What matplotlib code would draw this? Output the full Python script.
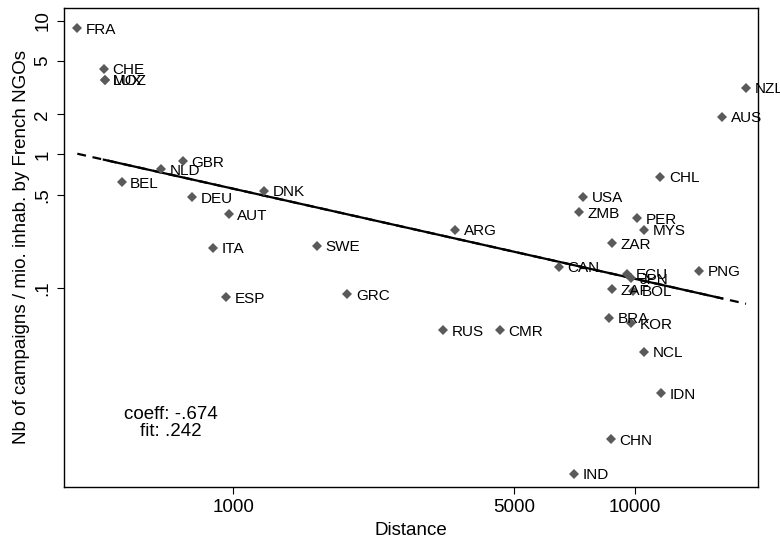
import numpy as np
import matplotlib
matplotlib.use('Agg')
import matplotlib.pyplot as plt

plt.rcParams['font.family'] = ['Liberation Sans', 'DejaVu Sans']

# Datos (distancia en km, campanas / mio. hab.)
paises = ['FRA', 'CHE', 'LUX', 'MOZ', 'BEL', 'NLD', 'GBR', 'DEU', 'AUT', 'ITA',
          'DNK', 'SWE', 'ESP', 'GRC', 'ARG', 'RUS', 'CMR', 'USA', 'ZMB', 'CAN',
          'CHL', 'PER', 'MYS', 'ZAR', 'ECU', 'JPN', 'ZAF', 'BOL', 'BRA', 'KOR',
          'NCL', 'IDN', 'CHN', 'IND', 'PNG', 'AUS', 'NZL']
distancia = [408, 475, 477, 477, 526, 660, 747, 787, 973, 887,
             1193, 1615, 958, 1922, 3575, 3336, 4619, 7452, 7258, 6481,
             11595, 10161, 10578, 8790, 9561, 9784, 8790, 9935, 8650, 9784,
             10542, 11620, 8720, 7065, 14500, 16520, 18970]
campanas = [8.82, 4.37, 3.61, 3.61, 0.619, 0.775, 0.889, 0.478, 0.356, 0.200,
            0.533, 0.207, 0.0852, 0.0897, 0.272, 0.0482, 0.0482, 0.483, 0.369, 0.144,
            0.682, 0.333, 0.272, 0.216, 0.127, 0.118, 0.0978, 0.095, 0.0599, 0.0544,
            0.0333, 0.01626, 0.00736, 0.00404, 0.1348, 1.92, 3.17]

# recta de ajuste (log-log)
coef = -0.674
intercepto = 1.765
ajuste = 0.242

x_ticks = [1000, 5000, 10000]
y_ticks = [0.1, 0.5, 1, 2, 5, 10]
y_tick_labels = ['.1', '.5', '1', '2', '5', '10']

fig = plt.figure(figsize=(7.8, 5.37), dpi=100)
ax = fig.add_axes([64/780, 1 - 487/537, (758-64)/780, (487-8)/537])

ax.set_xscale('log')
ax.set_yscale('log')

# linea de ajuste: discontinua en los extremos, continua en el interior
xs = np.sort(distancia)
x_full = np.array([xs[0], xs[-1]])
x_in = np.array([xs[1], xs[-2]])
ax.plot(x_full, 10**(intercepto + coef*np.log10(x_full)), color='black',
        lw=1.6, ls=(0, (4, 3)), zorder=2)
ax.plot(x_in, 10**(intercepto + coef*np.log10(x_in)), color='black',
        lw=1.6, zorder=2)

ax.plot(distancia, campanas, 'D', color='#5a5a5a', ms=4.6, mew=0, zorder=3)
for p, x, y in zip(paises, distancia, campanas):
    ax.annotate(p, (x, y), xytext=(6.2, -1), textcoords='offset points',
                ha='left', va='center', fontsize=11, color='black', zorder=4)

ax.text(697, 0.00966, 'coeff: %s\nfit: %s' % (('%.3f' % coef).replace('0.', '.'),
                                               ('%.3f' % ajuste).replace('0.', '.')),
        ha='center', va='center', fontsize=13.5, multialignment='center',
        linespacing=1.0)

ax.set_xlim(378, 20320)
ax.set_ylim(0.00323, 12.5)

ax.xaxis.set_minor_locator(matplotlib.ticker.NullLocator())
ax.yaxis.set_minor_locator(matplotlib.ticker.NullLocator())
ax.set_xticks(x_ticks)
ax.set_xticklabels([str(t) for t in x_ticks])
ax.set_yticks(y_ticks)
ax.set_yticklabels(y_tick_labels, rotation=90, va='center')
ax.tick_params(axis='both', direction='out', length=5, width=0.8,
               labelsize=13.5, pad=4)

for s in ax.spines.values():
    s.set_linewidth(1.0)

ax.set_xlabel('Distance', fontsize=13.5, labelpad=4)
ax.set_ylabel('Nb of campaigns / mio. inhab. by French NGOs', fontsize=13.5,
              labelpad=3)

plt.savefig('out.png', dpi=100)
